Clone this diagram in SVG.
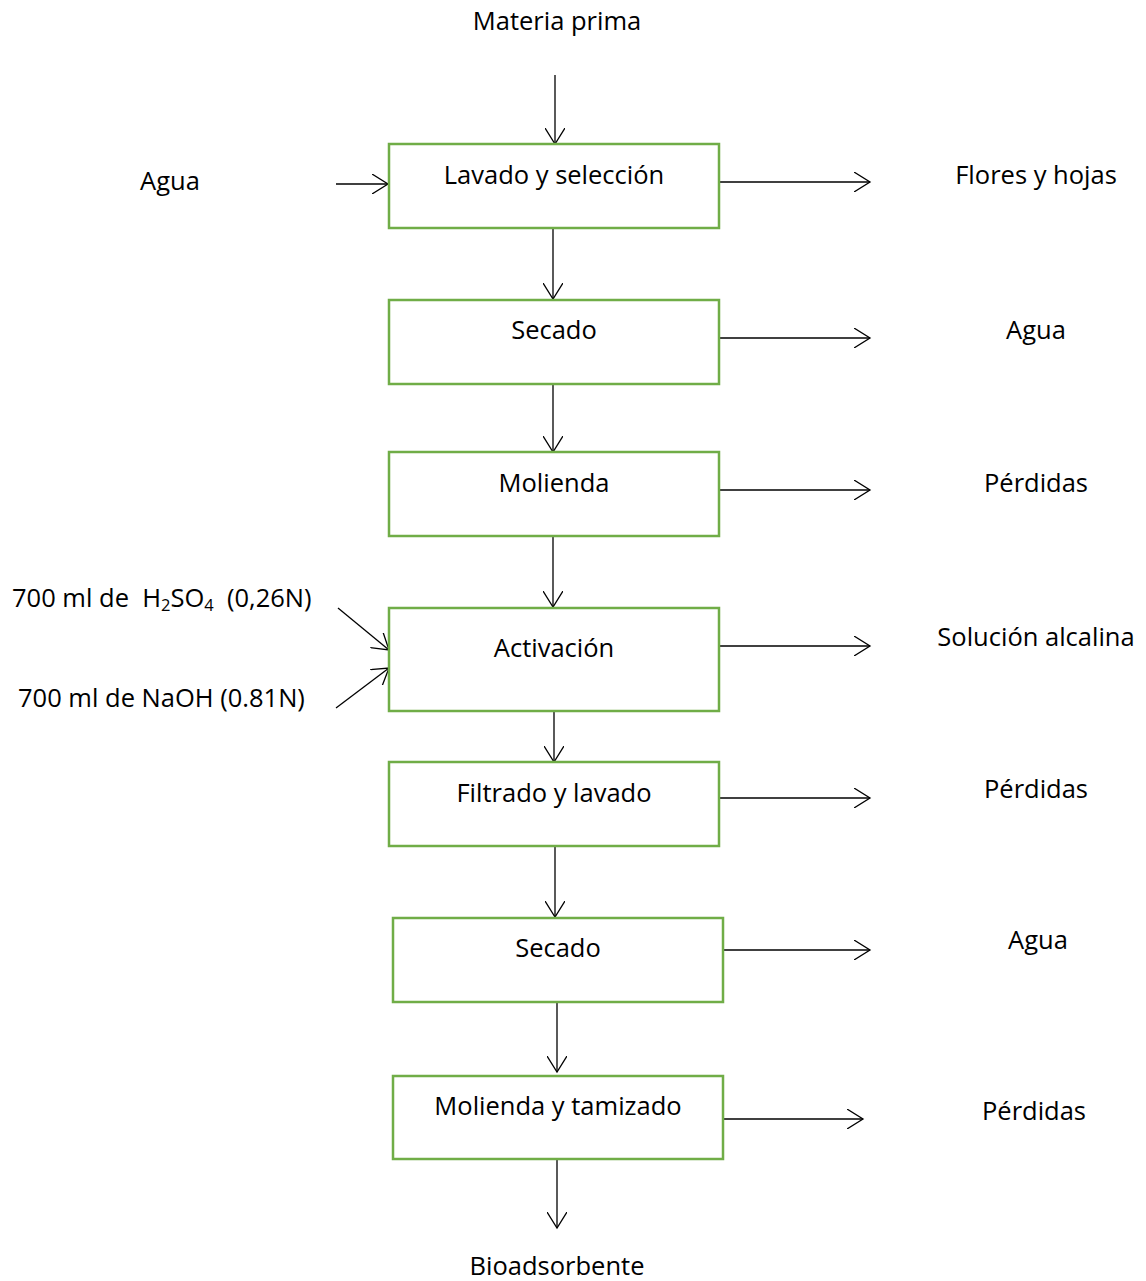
<svg xmlns="http://www.w3.org/2000/svg" width="1146" height="1281" viewBox="0 0 1146 1281">
<defs>
<style>
.box{fill:#fff;stroke:#70AD47;stroke-width:2.5}
.t{font-family:"Open Sans",Lato,sans-serif;font-size:25.5px;fill:#000;text-anchor:middle}
.tl{font-family:"Open Sans",Lato,sans-serif;font-size:25.5px;fill:#000;white-space:pre}
.c{stroke:#000;stroke-width:1.3;fill:none}
</style>
<marker id="a" viewBox="0 0 20 20" refX="16" refY="10" markerWidth="20" markerHeight="20" markerUnits="userSpaceOnUse" orient="auto">
<path d="M0,0 L16,10 L0,20" fill="none" stroke="#000" stroke-width="1.3"/>
</marker>
</defs>
<rect width="1146" height="1281" fill="#fff"/>
<g id="connectors">
<line class="c" x1="555" y1="75" x2="555" y2="144" marker-end="url(#a)"/>
<line class="c" x1="336" y1="184" x2="388" y2="184" marker-end="url(#a)"/>
<line class="c" x1="719" y1="182" x2="870" y2="182" marker-end="url(#a)"/>
<line class="c" x1="553" y1="228" x2="553" y2="299" marker-end="url(#a)"/>
<line class="c" x1="719" y1="338" x2="870" y2="338" marker-end="url(#a)"/>
<line class="c" x1="553" y1="384" x2="553" y2="452" marker-end="url(#a)"/>
<line class="c" x1="719" y1="490" x2="870" y2="490" marker-end="url(#a)"/>
<line class="c" x1="553" y1="536" x2="553" y2="607" marker-end="url(#a)"/>
<line class="c" x1="719" y1="646" x2="870" y2="646" marker-end="url(#a)"/>
<line class="c" x1="338" y1="608" x2="389" y2="650" marker-end="url(#a)"/>
<line class="c" x1="336" y1="708" x2="389" y2="668" marker-end="url(#a)"/>
<line class="c" x1="554" y1="711" x2="554" y2="762" marker-end="url(#a)"/>
<line class="c" x1="719" y1="798" x2="870" y2="798" marker-end="url(#a)"/>
<line class="c" x1="555" y1="846" x2="555" y2="917" marker-end="url(#a)"/>
<line class="c" x1="723" y1="950" x2="870" y2="950" marker-end="url(#a)"/>
<line class="c" x1="557" y1="1002" x2="557" y2="1072" marker-end="url(#a)"/>
<line class="c" x1="723" y1="1119" x2="863" y2="1119" marker-end="url(#a)"/>
<line class="c" x1="557" y1="1159" x2="557" y2="1228" marker-end="url(#a)"/>
</g>
<g id="n1"><rect class="box" x="389" y="144" width="330" height="84"/><text class="t" x="554" y="184">Lavado y selección</text></g>
<g id="n2"><rect class="box" x="389" y="300" width="330" height="84"/><text class="t" x="554" y="339">Secado</text></g>
<g id="n3"><rect class="box" x="389" y="452" width="330" height="84"/><text class="t" x="554" y="492">Molienda</text></g>
<g id="n4"><rect class="box" x="389" y="608" width="330" height="103"/><text class="t" x="554" y="657">Activación</text></g>
<g id="n5"><rect class="box" x="389" y="762" width="330" height="84"/><text class="t" x="554" y="802">Filtrado y lavado</text></g>
<g id="n6"><rect class="box" x="393" y="918" width="330" height="84"/><text class="t" x="558" y="957">Secado</text></g>
<g id="n7"><rect class="box" x="393" y="1076" width="330" height="83"/><text class="t" x="558" y="1115">Molienda y tamizado</text></g>
<g id="labels">
<text class="t" x="557" y="30">Materia prima</text>
<text class="t" x="170" y="190">Agua</text>
<text class="t" x="1036" y="184">Flores y hojas</text>
<text class="t" x="1036" y="339">Agua</text>
<text class="t" x="1036" y="492">Pérdidas</text>
<text class="t" x="1036" y="646">Solución alcalina</text>
<text class="t" x="1036" y="798">Pérdidas</text>
<text class="t" x="1038" y="949">Agua</text>
<text class="t" x="1034" y="1120">Pérdidas</text>
<text class="t" x="557" y="1275">Bioadsorbente</text>
<text class="tl" x="12" y="607">700 ml de  H<tspan font-size="16.5" dy="4">2</tspan><tspan dy="-4">SO</tspan><tspan font-size="16.5" dy="4">4</tspan><tspan dy="-4">  (0,26N)</tspan></text>
<text class="tl" x="18" y="707">700 ml de NaOH (0.81N)</text>
</g>
</svg>
